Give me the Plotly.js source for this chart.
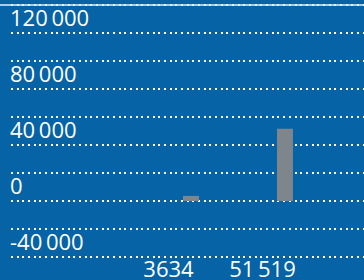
<!DOCTYPE html>
<html>
<head>
<meta charset="utf-8">
<script src="https://cdn.plot.ly/plotly-3.0.1.min.js"></script>
<style>html,body{margin:0;padding:0;background:#0563a6;}#chart{width:364px;height:280px;}</style>
</head>
<body>
<div id="chart"></div>
<script>
var categories = ["3634", "51\u2009519"];
var values = [3634, 51519];
var yTickValues = [-40000, 0, 40000, 80000, 120000];
var yTickLabels = ["-40\u2009000", "0", "40\u2009000", "80\u2009000", "120\u2009000"];
var yGridStep = 20000;

var bg = "#0563a6";
var trace = {
  type: "bar",
  x: categories,
  y: values,
  width: 0.17,
  offset: 0.154,
  marker: {color: "#7e868c"},
  hoverinfo: "none"
};

var layout = {
  width: 364,
  height: 280,
  margin: {l: 11, r: 0, t: 0, b: 20, pad: 0},
  paper_bgcolor: bg,
  plot_bgcolor: bg,
  showlegend: false,
  font: {family: "Open Sans", size: 22, color: "#ffffff"},
  xaxis: {
    type: "category",
    range: [-1.6755, 2.0798],
    showgrid: false,
    zeroline: false,
    showline: false,
    ticks: "",
    ticklabelstandoff: -6,
    tickfont: {family: "Open Sans", size: 22, color: "#ffffff"},
    automargin: false
  },
  yaxis: {
    range: [-42142.857, 143571.43],
    tickmode: "array",
    tickvals: yTickValues,
    ticktext: yTickLabels,
    showgrid: true,
    gridcolor: "rgba(255,255,255,0.95)",
    gridwidth: 1.5,
    griddash: "2px,3.67px",
    minor: {dtick: yGridStep, tick0: 0, showgrid: true, gridcolor: "rgba(255,255,255,0.95)", gridwidth: 1.5, griddash: "2px,3.67px", ticks: ""},
    zeroline: false,
    showline: false,
    ticks: "",
    ticklabelposition: "inside",
    ticklabelshift: -15,
    ticklabelstandoff: -4,
    tickfont: {family: "Open Sans", size: 22, color: "#ffffff"},
    automargin: false
  },
  shapes: [{
    type: "line", xref: "paper", yref: "y",
    x0: -0.04, x1: 1.01, y0: 140000, y1: 140000,
    line: {color: "#e6eef6", width: 1.6}
  }]
};

Plotly.newPlot("chart", [trace], layout, {displayModeBar: false, staticPlot: true});
</script>
</body>
</html>
